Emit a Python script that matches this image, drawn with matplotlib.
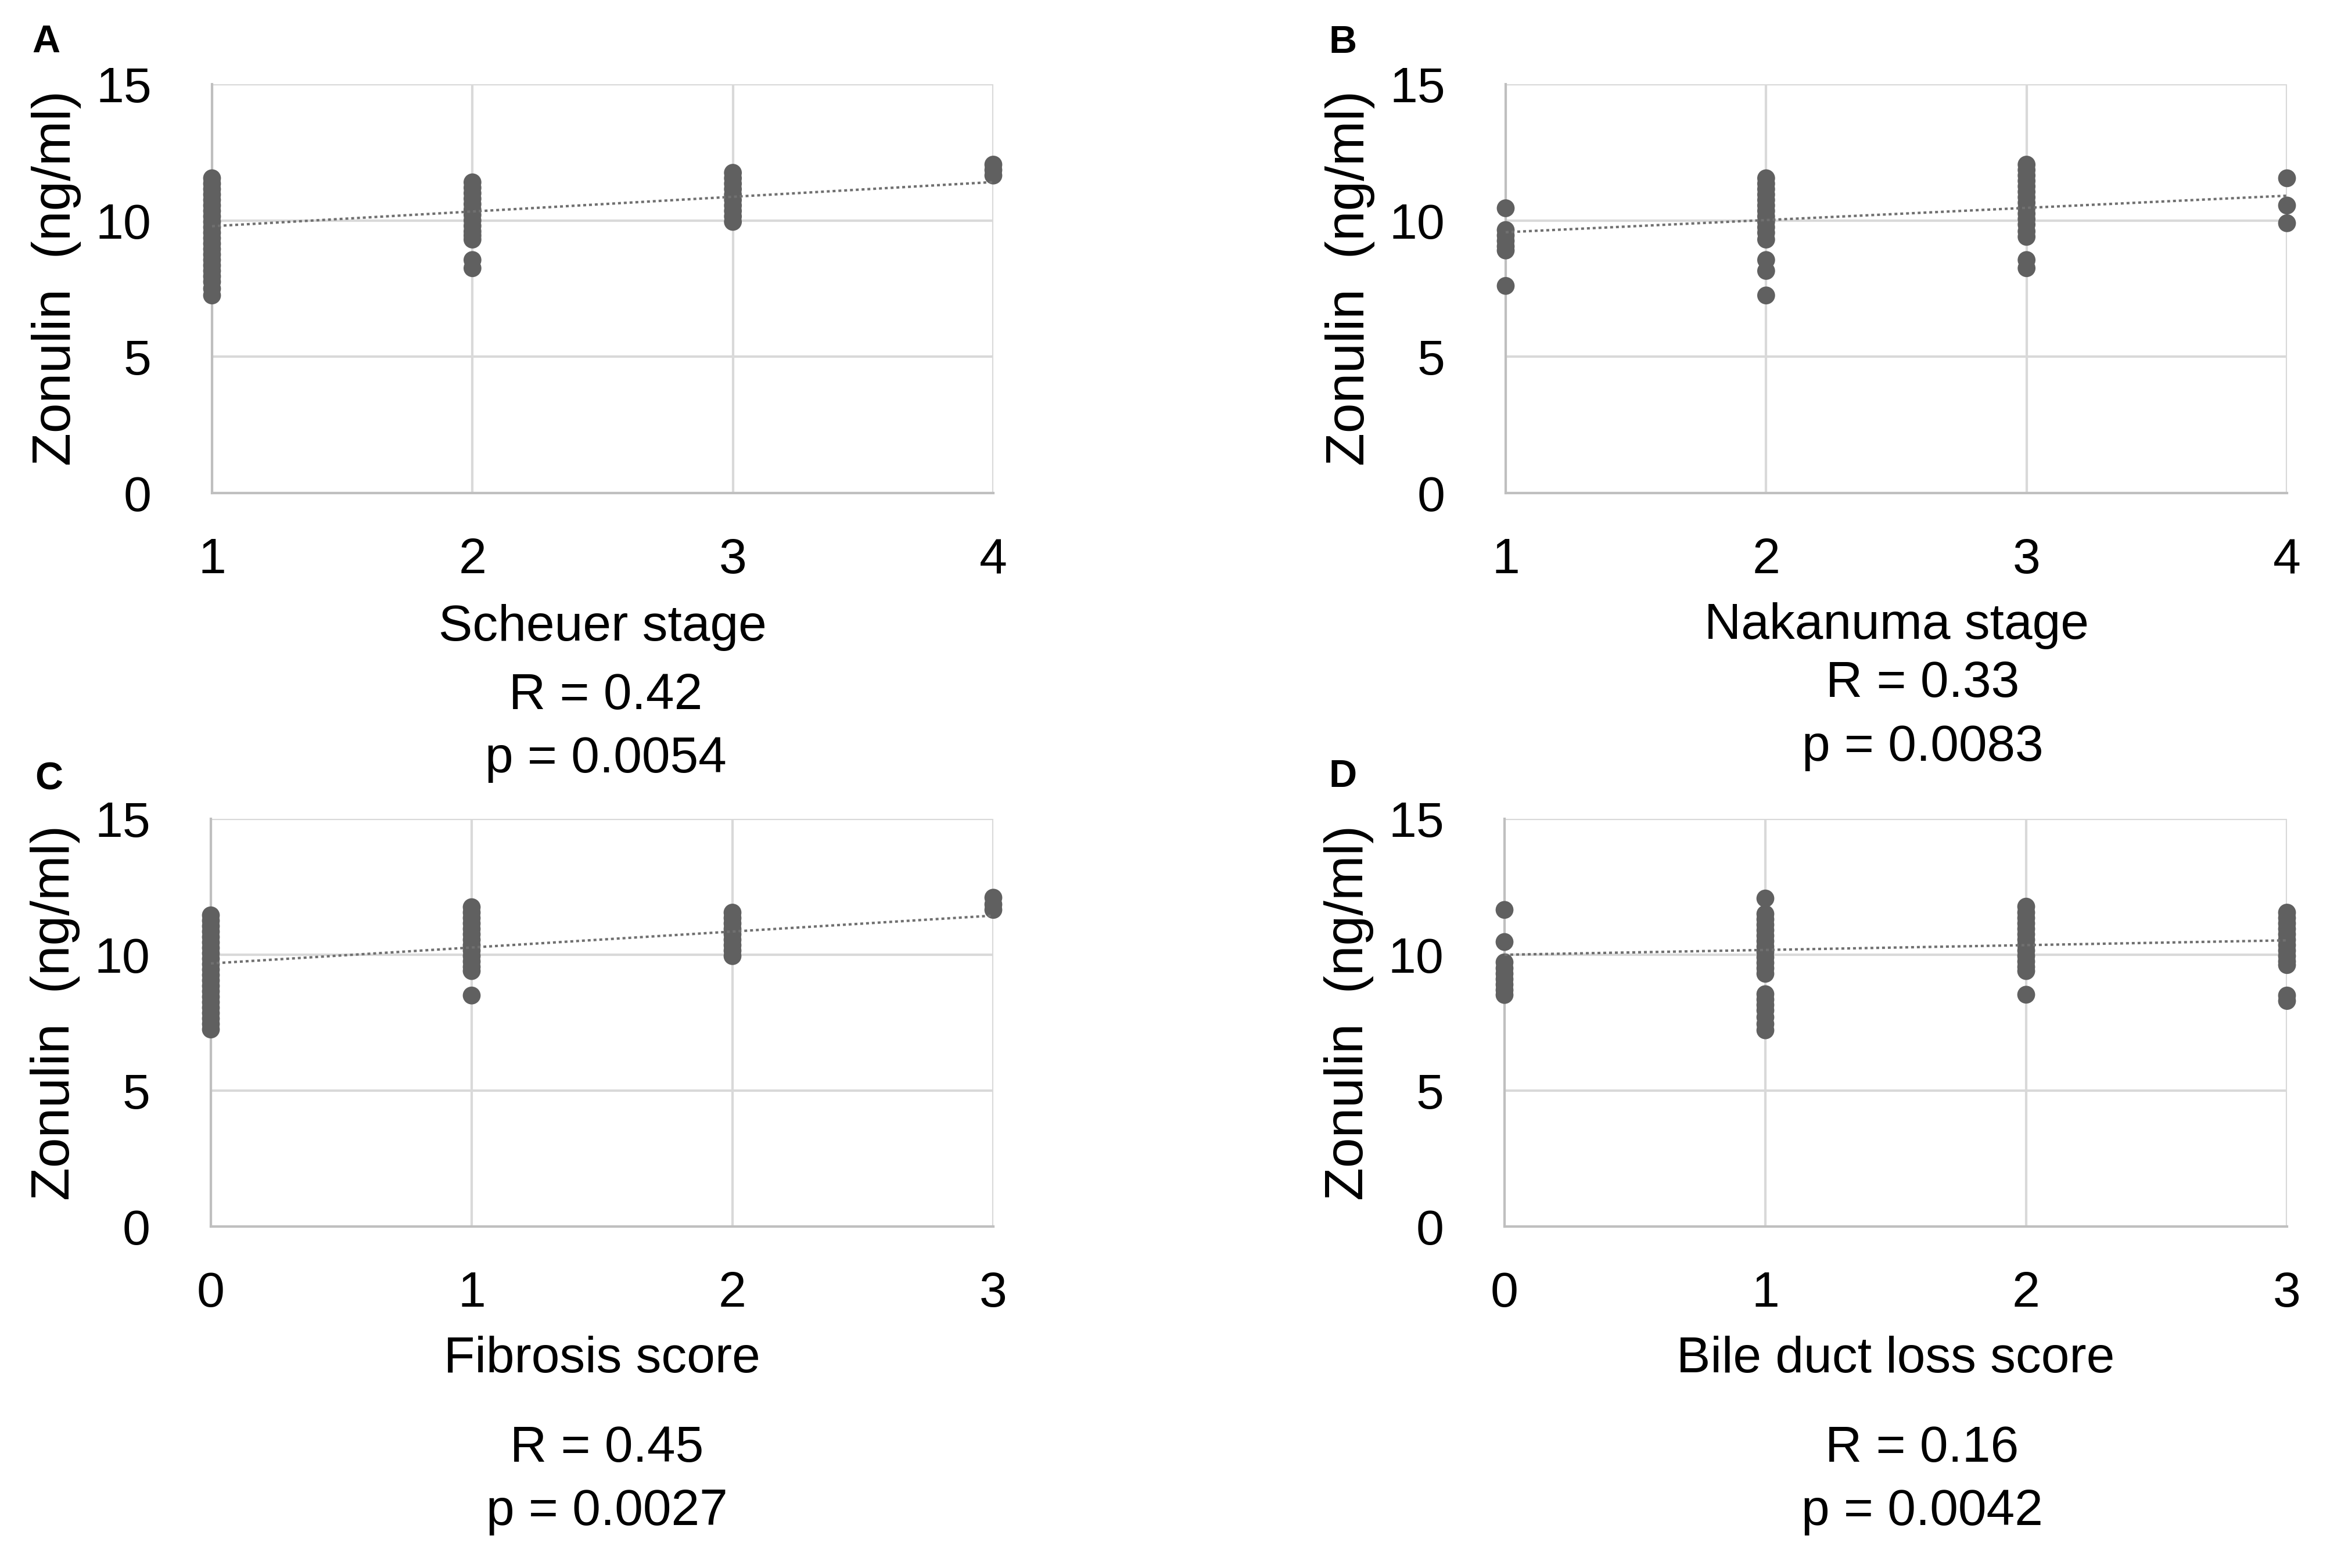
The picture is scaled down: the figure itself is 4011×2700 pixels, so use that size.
import matplotlib.pyplot as plt
import numpy as np

plt.rcParams['font.family'] = ['Liberation Sans', 'DejaVu Sans']

W, H = 4012, 2700

# ---------------- data ----------------
# panel A : Scheuer stage 1..4
a_x = [1, 2, 3, 4]
a_1 = [11.55, 11.35, 11.15, 10.95, 10.75, 10.55, 10.35, 10.15, 9.95, 9.75, 9.55,
       9.35, 9.15, 8.95, 8.75, 8.55, 8.35, 8.15, 7.95, 7.75, 7.5, 7.25]
a_2 = [11.4, 11.2, 11.0, 10.8, 10.6, 10.4, 10.2, 10.0, 9.8, 9.6, 9.45, 9.3, 8.55, 8.25]
a_3 = [11.75, 11.55, 11.35, 11.15, 10.95, 10.75, 10.55, 10.35, 10.15, 9.95]
a_4 = [12.05, 11.85, 11.65]
a_trend = [9.79, 11.41]

# panel B : Nakanuma stage 1..4
b_x = [1, 2, 3, 4]
b_1 = [10.45, 9.65, 9.45, 9.25, 9.05, 8.9, 7.6]
b_2 = [11.55, 11.35, 11.15, 10.95, 10.75, 10.55, 10.35, 10.15, 9.95, 9.75, 9.55,
       9.3, 8.55, 8.15, 7.25]
b_3 = [12.05, 11.85, 11.65, 11.45, 11.25, 11.05, 10.85, 10.65, 10.45, 10.25, 10.05,
       9.85, 9.6, 9.4, 8.55, 8.25]
b_4 = [11.55, 10.55, 9.9]
b_trend = [9.57, 10.91]

# panel C : Fibrosis score 0..3
c_x = [0, 1, 2, 3]
c_0 = [11.45, 11.25, 11.05, 10.85, 10.65, 10.45, 10.25, 10.05, 9.85, 9.65, 9.45,
       9.25, 9.05, 8.85, 8.65, 8.45, 8.25, 8.05, 7.85, 7.65, 7.45, 7.25]
c_1 = [11.75, 11.55, 11.35, 11.15, 10.95, 10.75, 10.55, 10.35, 10.15, 9.95, 9.75,
       9.55, 9.4, 8.5]
c_2 = [11.55, 11.35, 11.15, 10.95, 10.75, 10.55, 10.35, 10.15, 9.95]
c_3 = [12.1, 11.85, 11.65]
c_trend = [9.68, 11.44]

# panel D : Bile duct loss score 0..3
d_x = [0, 1, 2, 3]
d_0 = [11.65, 10.47, 9.72, 9.5, 9.3, 9.1, 8.9, 8.7, 8.52]
d_1 = [12.07, 11.5, 11.3, 11.1, 10.9, 10.7, 10.5, 10.3, 10.1, 9.9, 9.7, 9.5, 9.3,
       8.55, 8.35, 8.15, 7.95, 7.7, 7.45, 7.22]
d_2 = [11.77, 11.55, 11.35, 11.15, 10.95, 10.75, 10.55, 10.35, 10.15, 9.95, 9.75,
       9.55, 9.4, 8.53]
d_3 = [11.55, 11.35, 11.15, 10.95, 10.75, 10.55, 10.35, 10.15, 9.95, 9.75, 9.62, 8.5, 8.3]
d_trend = [10.0, 10.53]

y_ticks = [0, 5, 10, 15]
y_label = 'Zonulin  (ng/ml)'

fig = plt.figure(figsize=(W / 100, H / 100), dpi=100)


def px_rect(left, right, top, bottom):
    return [left / W, 1 - bottom / H, (right - left) / W, (bottom - top) / H]


def panel(rect, xs, cols, trend, xlabel, r_txt, p_txt, letter, letter_pos, baselines, stat_shift=0):
    ax = fig.add_axes(rect)
    for x, col in zip(xs, cols):
        ax.scatter([x] * len(col), col, s=490, color='#606060', edgecolors='none',
                   zorder=3, clip_on=False)
    ax.plot([xs[0], xs[-1]], trend, color='#707070', lw=3,
            linestyle=(0, (1.2, 1.2)), zorder=4, clip_on=False)

    ax.set_xlim(xs[0], xs[-1])
    ax.set_ylim(0, 15)
    ax.set_xticks(xs)
    ax.set_yticks(y_ticks)
    ax.grid(True, color='#d9d9d9', lw=3, zorder=0)
    ax.set_axisbelow(True)
    for s in ['top', 'right']:
        ax.spines[s].set_visible(False)
    for s in ['left', 'bottom']:
        ax.spines[s].set_color('#bfbfbf')
        ax.spines[s].set_linewidth(3)
    ax.tick_params(axis='y', length=0, pad=75, labelsize=62)
    ax.tick_params(axis='x', length=0, pad=55, labelsize=62)

    ax.text(-0.199, 0.525, y_label, transform=ax.transAxes, rotation=90,
            ha='center', va='center', fontsize=67)

    cx = rect[0] + rect[2] / 2
    fig.text(cx, 1 - baselines[0] / H, xlabel, ha='center', va='baseline', fontsize=63)
    for txt, b in zip([r_txt, p_txt], baselines[1:]):
        fig.text(cx + stat_shift / W, 1 - b / H, txt, ha='center', va='baseline', fontsize=63)

    fig.text(letter_pos[0] / W, 1 - letter_pos[1] / H, letter, ha='left',
             va='baseline', fontsize=48, fontweight='bold')
    return ax


panel(px_rect(365, 1710, 145, 849), a_x, [a_1, a_2, a_3, a_4], a_trend,
      'Scheuer stage', 'R = 0.42', 'p = 0.0054', 'A', (55, 90), [1103, 1221, 1330], 5)
panel(px_rect(2592, 3937, 145, 849), b_x, [b_1, b_2, b_3, b_4], b_trend,
      'Nakanuma stage', 'R = 0.33', 'p = 0.0083', 'B', (2287, 91), [1100, 1200, 1310], 45)
panel(px_rect(363, 1710, 1410, 2112), c_x, [c_0, c_1, c_2, c_3], c_trend,
      'Fibrosis score', 'R = 0.45', 'p = 0.0027', 'C', (60, 1360), [2363, 2517, 2626], 8)
panel(px_rect(2590, 3937, 1410, 2112), d_x, [d_0, d_1, d_2, d_3], d_trend,
      'Bile duct loss score', 'R = 0.16', 'p = 0.0042', 'D', (2287, 1355), [2363, 2517, 2626], 45)

fig.savefig('out.png', dpi=100, facecolor='white')
